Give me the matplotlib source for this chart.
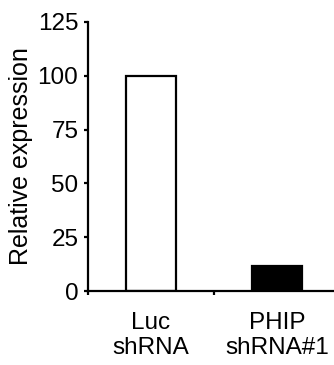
import matplotlib
matplotlib.use("Agg")
import matplotlib.pyplot as plt
import numpy as np

categories = ["Luc\nshRNA", "PHIP\nshRNA#1"]
values = [100, 11.5]
face_colors = ["white", "black"]
yticks = [0, 25, 50, 75, 100, 125]

plt.rcParams['font.family'] = ['Liberation Sans', 'DejaVu Sans']

fig = plt.figure(figsize=(3.34, 3.65), dpi=100)
ax = fig.add_axes([88 / 334, 74 / 365, 252 / 334, 269 / 365])

x = np.arange(len(categories))
ax.bar(x, values, width=0.39, color=face_colors, edgecolor="black", linewidth=1.6)

ax.set_xlim(-0.5, len(categories) - 0.5)
ax.set_ylim(0, 125)
ax.set_yticks(yticks)
ax.set_yticklabels([str(t) for t in yticks], fontsize=17.5)
ax.set_xticks(x)
ax.set_xticklabels(categories, fontsize=17.5, linespacing=1.2)
ax.tick_params(axis="x", length=0, pad=15)
ax.set_xticks(np.arange(len(categories)) - 0.5, minor=True)
ax.tick_params(axis="x", which="minor", length=3, width=1.6, direction="out")
ax.tick_params(axis="y", length=3, width=1.6, direction="out", pad=4)

ax.set_ylabel("Relative expression", fontsize=18, labelpad=3)

for side in ("top", "right"):
    ax.spines[side].set_visible(False)
for side in ("left", "bottom"):
    ax.spines[side].set_linewidth(1.6)

fig.savefig("out.png", dpi=100)
